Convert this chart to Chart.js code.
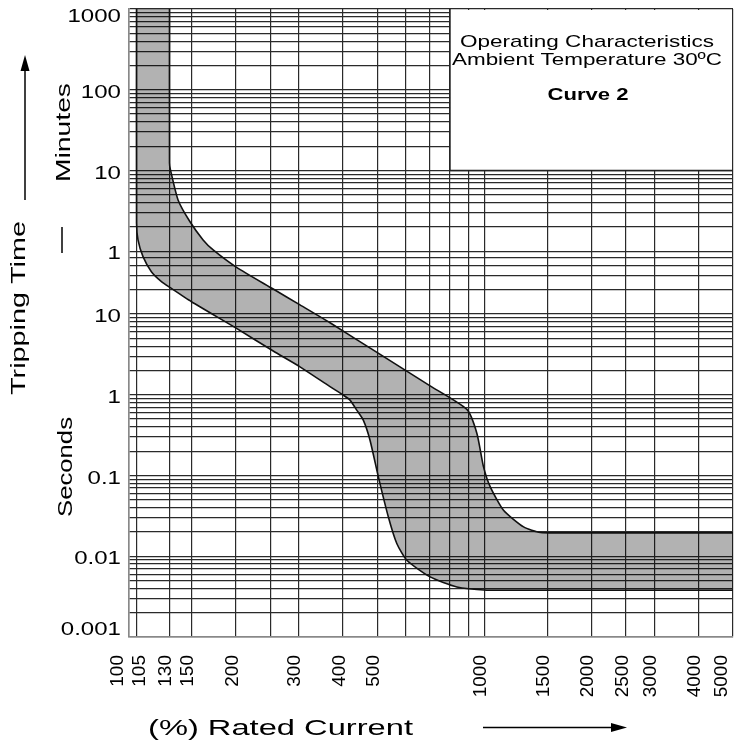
<!DOCTYPE html>
<html>
<head>
<meta charset="utf-8">
<script src="https://cdn.jsdelivr.net/npm/chart.js@4"></script>
<style>
  body { margin: 0; background: #fff; }
  canvas { display: block; }
</style>
</head>
<body>
<canvas id="tripChart" width="734" height="747"></canvas>
<script>
// Rated current (%) - vertical grid lines and the labelled ones
const xGridValues = [100, 105, 130, 150, 200, 250, 300, 400, 500, 600, 700, 800, 900, 1000, 1500, 2000, 2500, 3000, 4000, 5000];
const xTickLabels = [100, 105, 130, 150, 200, 300, 400, 500, 1000, 1500, 2000, 2500, 3000, 4000, 5000];

// Tripping time, everything in seconds (1 min = 60 s)
const yTickValues = [60000, 6000, 600, 60, 10, 1, 0.1, 0.01, 0.001];
const yTickLabels = ["1000", "100", "10", "1", "10", "1", "0.1", "0.01", "0.001"];
const minuteDecades = [1, 10, 100];
const secondDecades = [0.001, 0.01, 0.1, 1];
const extraSeconds = [10, 20, 30, 40, 50];

// Band edges (current %, time s)
const upperCurrent = [130, 130, 130.8, 137.4, 148.3, 161.6, 172.5, 200.7, 254.5, 302.7, 367.7, 500.9, 703, 892, 952, 993.6, 1038, 1131, 1288, 1435, 1700, 2500, 3500, 4500, 5000, 5150, 5300];
const upperTime = [90000, 745, 611, 259, 140, 82.8, 62.2, 37.9, 20.4, 12.97, 7.8, 3.3, 1.29, 0.659, 0.332, 0.128, 0.0723, 0.0372, 0.0231, 0.0197, 0.0195, 0.0195, 0.0195, 0.0195, 0.0195, 0.0195, 0.0195];
const lowerCurrent = [5300, 5150, 5000, 4500, 3500, 2500, 1600, 1200, 1016, 836, 703, 604.5, 566.6, 536.5, 502.8, 476.4, 456.1, 437.1, 418.5, 400.7, 367.7, 302.7, 254.5, 200.7, 149.9, 130.2, 123.4, 115.6, 109.5, 106, 105, 105];
const lowerTime = [0.0038, 0.0038, 0.0038, 0.0038, 0.0038, 0.0038, 0.0038, 0.0038, 0.0038, 0.00417, 0.00555, 0.00893, 0.0144, 0.0307, 0.0962, 0.274, 0.485, 0.646, 0.859, 0.99, 1.26, 2.22, 3.48, 6.65, 14.2, 21.4, 25.2, 33.5, 51.4, 82.8, 134.5, 90000];

// build y grid
const yGridValues = [60000];
minuteDecades.forEach(d => { for (let k = 1; k <= 9; k++) yGridValues.push(k * d * 60); });
secondDecades.forEach(d => { for (let k = 1; k <= 9; k++) yGridValues.push(k * d); });
extraSeconds.forEach(s => yGridValues.push(s));

const bandPoints = upperCurrent.map((x, i) => ({ x: x, y: upperTime[i] }))
  .concat(lowerCurrent.map((x, i) => ({ x: x, y: lowerTime[i] })));

const FONT = "'Liberation Sans', Arial, Helvetica, sans-serif";

// draw text squeezed/stretched to a given width
function fitText(ctx, text, cx, cy, width, font, rot) {
  ctx.save();
  ctx.font = font;
  const w = ctx.measureText(text).width;
  ctx.translate(cx, cy);
  if (rot) ctx.rotate(rot);
  ctx.scale(width / w, 1);
  ctx.textAlign = "center";
  ctx.textBaseline = "middle";
  ctx.fillStyle = "#000";
  ctx.fillText(text, 0, 0);
  ctx.restore();
}

function arrow(ctx, x1, y1, x2, y2) {
  const ang = Math.atan2(y2 - y1, x2 - x1);
  ctx.save();
  ctx.strokeStyle = "#000";
  ctx.fillStyle = "#000";
  ctx.lineWidth = 1.5;
  ctx.beginPath();
  ctx.moveTo(x1, y1);
  ctx.lineTo(x2 - 12 * Math.cos(ang), y2 - 12 * Math.sin(ang));
  ctx.stroke();
  ctx.translate(x2, y2);
  ctx.rotate(ang);
  ctx.beginPath();
  ctx.moveTo(0, 0);
  ctx.lineTo(-16, -4.5);
  ctx.lineTo(-16, 4.5);
  ctx.closePath();
  ctx.fill();
  ctx.restore();
}

const decorPlugin = {
  id: "decor",
  beforeDatasetsDraw(chart) {
    const { ctx, chartArea, scales } = chart;
    const left = scales.x.getPixelForValue(800);
    const bottom = scales.y.getPixelForValue(600);
    ctx.save();
    ctx.fillStyle = "#fff";
    ctx.fillRect(left, chartArea.top + 1, chartArea.right - left - 1, bottom - chartArea.top - 1);
    ctx.strokeStyle = "#222";
    ctx.lineWidth = 1.3;
    ctx.beginPath();
    ctx.moveTo(left, chartArea.top);
    ctx.lineTo(left, bottom);
    ctx.lineTo(chartArea.right, bottom);
    ctx.stroke();
    ctx.restore();
  },
  afterDraw(chart) {
    const { ctx, scales } = chart;
    // box text
    fitText(ctx, "Operating Characteristics", 587, 42.5, 254, "17px " + FONT);
    fitText(ctx, "Ambient Temperature 30\u00BAC", 587, 60, 270, "17px " + FONT);
    fitText(ctx, "Curve 2", 588, 96, 81, "bold 16px " + FONT);

    // y tick labels (wide face, as in the original)
    ctx.save();
    ctx.font = "18.5px " + FONT;
    ctx.fillStyle = "#000";
    ctx.textAlign = "right";
    ctx.textBaseline = "middle";
    yTickValues.forEach((v, i) => {
      let dy = 3;
      if (i === 0) dy = 7.5;
      if (i === yTickValues.length - 1) dy = -7.5;
      const py = scales.y.getPixelForValue(v) + dy;
      ctx.save();
      ctx.translate(121, py);
      ctx.scale(1.3, 1);
      ctx.fillText(yTickLabels[i], 0, 0);
      ctx.restore();
    });
    ctx.restore();

    // x tick labels, rotated
    ctx.save();
    ctx.font = "19px " + FONT;
    ctx.fillStyle = "#000";
    ctx.textAlign = "right";
    ctx.textBaseline = "middle";
    xTickLabels.forEach(v => {
      let dx = -3.5;
      if (v === 100) dx = -11.5;
      if (v === 105) dx = 3.5;
      if (v === 5000) dx = -11;
      const px = scales.x.getPixelForValue(v) + dx;
      ctx.save();
      ctx.translate(px, 655);
      ctx.rotate(-Math.PI / 2);
      ctx.fillText(String(v), 0, 0);
      ctx.restore();
    });
    ctx.restore();

    // axis titles
    fitText(ctx, "(%) Rated Current", 280.5, 728.5, 265, "22px " + FONT);
    arrow(ctx, 483, 727.5, 627, 727.5);
    fitText(ctx, "Tripping Time", 19, 308, 174, "21px " + FONT, -Math.PI / 2);
    arrow(ctx, 25, 200, 25, 55);
    fitText(ctx, "Minutes", 64, 132.5, 99, "21px " + FONT, -Math.PI / 2);
    fitText(ctx, "Seconds", 66, 467, 100, "21px " + FONT, -Math.PI / 2);
    ctx.save();
    ctx.strokeStyle = "#000";
    ctx.lineWidth = 1.5;
    ctx.beginPath();
    ctx.moveTo(62, 227);
    ctx.lineTo(62, 253);
    ctx.stroke();
    ctx.restore();
  }
};

const ctx = document.getElementById("tripChart").getContext("2d");
const tripChart = new Chart(ctx, {
  type: "line",
  data: {
    datasets: [
      {
        label: "Curve 2",
        data: bandPoints,
        borderColor: "#111",
        borderWidth: 1.6,
        backgroundColor: "rgba(0, 0, 0, 0.3)",
        fill: "shape",
        pointRadius: 0,
        tension: 0.2,
      },
    ],
  },
  options: {
    responsive: false,
    animation: false,
    devicePixelRatio: 1,
    layout: { padding: { top: 9, right: 1, left: 0, bottom: 0 } },
    plugins: {
      legend: { display: false },
      tooltip: { enabled: false },
    },
    scales: {
      x: {
        type: "logarithmic",
        min: 100,
        max: 5000,
        afterBuildTicks: (scale) => {
          scale.ticks = xGridValues.map(v => ({ value: v }));
        },
        afterFit: (scale) => {
          scale.height = 110;
          scale.paddingLeft = 0;
          scale.paddingRight = 0;
        },
        ticks: { display: false, autoSkip: false },
        grid: { color: "#2a2a2a", lineWidth: 1.2, drawTicks: false },
        border: { color: "#888", width: 1.5 },
      },
      y: {
        type: "logarithmic",
        min: 0.001,
        max: 60000,
        afterBuildTicks: (scale) => {
          scale.ticks = yGridValues.map(v => ({ value: v }));
        },
        afterFit: (scale) => {
          scale.width = 129;
          scale.paddingTop = 0;
          scale.paddingBottom = 0;
        },
        ticks: { display: false, autoSkip: false },
        grid: { color: "#2a2a2a", lineWidth: 1.2, drawTicks: false },
        border: { color: "#888", width: 1.5 },
      },
    },
  },
  plugins: [decorPlugin],
});
</script>
</body>
</html>
